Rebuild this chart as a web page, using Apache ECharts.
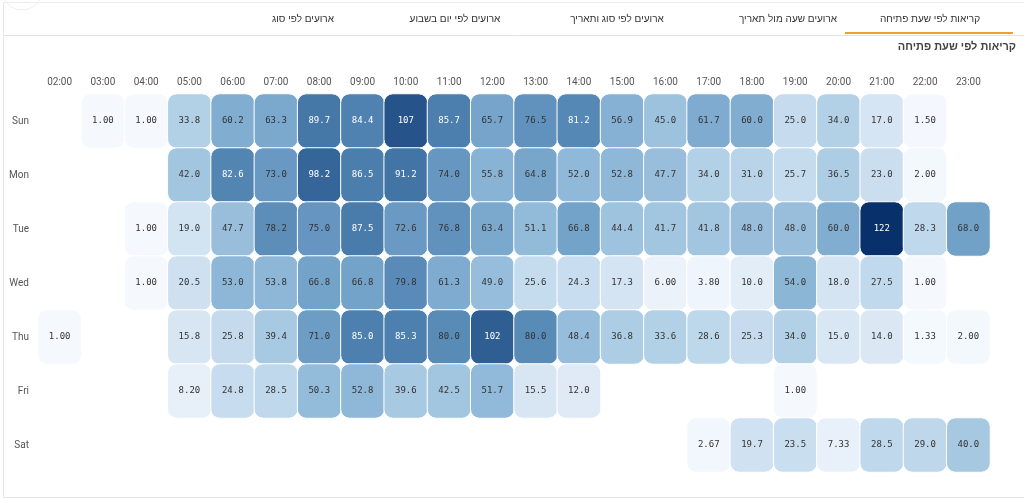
<!DOCTYPE html>
<html>
<head>
<meta charset="utf-8">
<script src="https://cdn.jsdelivr.net/npm/echarts@6/dist/echarts.min.js"></script>
<style>
  html, body { margin: 0; padding: 0; background: #fff; }
  #chart { width: 1024px; height: 500px; }
</style>
</head>
<body>
<div id="chart"></div>
<script>
// שעות (עמודות) וימים (שורות)
var hours = ['02:00','03:00','04:00','05:00','06:00','07:00','08:00','09:00','10:00','11:00','12:00',
             '13:00','14:00','15:00','16:00','17:00','18:00','19:00','20:00','21:00','22:00','23:00'];
var days = ['Sun','Mon','Tue','Wed','Thu','Fri','Sat'];

// ממוצע קריאות לפי יום ושעה, null = אין נתון
var sun = [null, 1.00, 1.00, 33.8, 60.2, 63.3, 89.7, 84.4, 107, 85.7, 65.7, 76.5, 81.2, 56.9, 45.0, 61.7, 60.0, 25.0, 34.0, 17.0, 1.50, null];
var mon = [null, null, null, 42.0, 82.6, 73.0, 98.2, 86.5, 91.2, 74.0, 55.8, 64.8, 52.0, 52.8, 47.7, 34.0, 31.0, 25.7, 36.5, 23.0, 2.00, null];
var tue = [null, null, 1.00, 19.0, 47.7, 78.2, 75.0, 87.5, 72.6, 76.8, 63.4, 51.1, 66.8, 44.4, 41.7, 41.8, 48.0, 48.0, 60.0, 122, 28.3, 68.0];
var wed = [null, null, 1.00, 20.5, 53.0, 53.8, 66.8, 66.8, 79.8, 61.3, 49.0, 25.6, 24.3, 17.3, 6.00, 3.80, 10.0, 54.0, 18.0, 27.5, 1.00, null];
var thu = [1.00, null, null, 15.8, 25.8, 39.4, 71.0, 85.0, 85.3, 80.0, 102, 80.0, 48.4, 36.8, 33.6, 28.6, 25.3, 34.0, 15.0, 14.0, 1.33, 2.00];
var fri = [null, null, null, 8.20, 24.8, 28.5, 50.3, 52.8, 39.6, 42.5, 51.7, 15.5, 12.0, null, null, null, null, 1.00, null, null, null, null];
var sat = [null, null, null, null, null, null, null, null, null, null, null, null, null, null, null, 2.67, 19.7, 23.5, 7.33, 28.5, 29.0, 40.0];

var rows = [sun, mon, tue, wed, thu, fri, sat];

var tabs = ['קריאות לפי שעת פתיחה', 'ארועים שעה מול תאריך', 'ארועים לפי סוג ותאריך', 'ארועים לפי יום בשבוע', 'ארועים לפי סוג'];
var tabX = [930, 788, 617, 455, 303];

function fmt(v) {
    if (v >= 100) return v.toFixed(0);
    if (v >= 10) return v.toFixed(1);
    return v.toFixed(2);
}

var data = [];
rows.forEach(function (row, d) {
    row.forEach(function (v, h) {
        if (v == null) return;
        data.push({
            value: [h, d, v],
            label: { color: v > 81 ? '#ffffff' : '#333333' }
        });
    });
});

var graphics = [
    // מסגרת
    { type: 'line', shape: { x1: 3.5, y1: 2, x2: 3.5, y2: 497 }, style: { stroke: '#e6e6e6', lineWidth: 1 } },
    { type: 'line', shape: { x1: 3, y1: 2.5, x2: 1024, y2: 2.5 }, style: { stroke: '#ececec', lineWidth: 1 } },
    { type: 'line', shape: { x1: 3, y1: 35.5, x2: 1024, y2: 35.5 }, style: { stroke: '#e3e3e3', lineWidth: 1 } },
    { type: 'line', shape: { x1: 3, y1: 497.5, x2: 1024, y2: 497.5 }, style: { stroke: '#e3e3e3', lineWidth: 1 } },
    { type: 'arc', shape: { cx: 22, cy: -10, r: 20, startAngle: 0, endAngle: Math.PI }, style: { stroke: '#eeeeee', fill: null, lineWidth: 1 } },
    // קו כתום מתחת ללשונית הפעילה
    { type: 'rect', shape: { x: 845, y: 32, width: 168, height: 2 }, style: { fill: '#f0a030' } },
    // כותרת
    { type: 'text', right: 8, top: 41, style: { text: 'קריאות לפי שעת פתיחה', font: 'bold 11px "Liberation Sans", sans-serif', fill: '#444' } }
];
tabs.forEach(function (t, i) {
    graphics.push({
        type: 'text', x: tabX[i], y: 19,
        style: { text: t, font: '10px "Liberation Sans", sans-serif', fill: '#333', align: 'center', verticalAlign: 'middle' }
    });
});

var chart = echarts.init(document.getElementById('chart'));
chart.setOption({
    animation: false,
    graphic: graphics,
    grid: { left: 38, right: 34, top: 94, height: 378 },
    xAxis: {
        type: 'category',
        position: 'top',
        data: hours,
        axisLine: { show: false },
        axisTick: { show: false },
        splitArea: { show: false },
        axisLabel: { color: '#555', fontSize: 10, fontFamily: 'Roboto, sans-serif', margin: 7 }
    },
    yAxis: {
        type: 'category',
        data: days,
        inverse: true,
        axisLine: { show: false },
        axisTick: { show: false },
        axisLabel: { color: '#555', fontSize: 10, fontFamily: 'Roboto, sans-serif', margin: 9 }
    },
    visualMap: {
        show: false,
        min: 1,
        max: 122,
        dimension: 2,
        inRange: {
            color: ['#f5f9fe', '#dde9f5', '#c6dcee', '#abcce3', '#95bcdb', '#7eabcf',
                    '#6898c2', '#4c7fae', '#37679a', '#214d85', '#08306b']
        }
    },
    series: [{
        type: 'heatmap',
        data: data,
        label: {
            show: true,
            formatter: function (p) { return fmt(p.value[2]); },
            fontSize: 9,
            fontFamily: '"DejaVu Sans Mono", monospace'
        },
        itemStyle: { borderRadius: 9, borderColor: '#ffffff', borderWidth: 1 }
    }]
});
</script>
</body>
</html>
